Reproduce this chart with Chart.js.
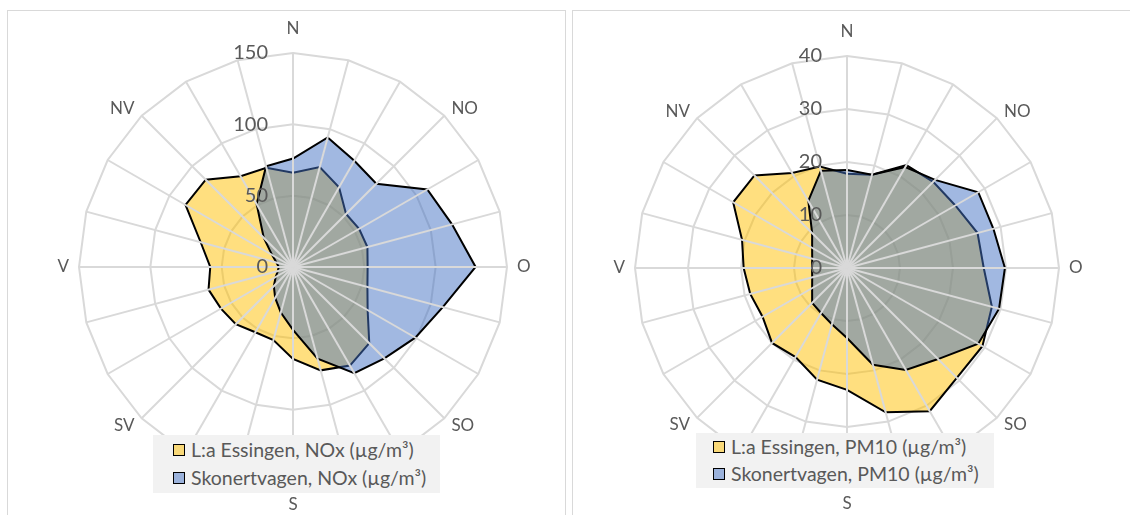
<!DOCTYPE html>
<html>
<head>
<meta charset="utf-8">
<script src="https://cdn.jsdelivr.net/npm/chart.js@4/dist/chart.umd.min.js"></script>
<style>
  html, body { margin: 0; padding: 0; background: #fff; width: 1130px; height: 515px; overflow: hidden; }
  body { position: relative; font-family: Lato, "Open Sans", sans-serif; }
  .panel { position: absolute; border: 1px solid #d9d9d9; box-sizing: border-box; }
  canvas { position: absolute; top: 0; }
  .legend { position: absolute; background: #f2f2f2; }
  .item { position: absolute; height: 22px; line-height: 22px; white-space: nowrap; font-size: 19.5px; color: #595959; }
  .swatch { position: absolute; top: 5px; width: 12px; height: 12px; border: 1.5px solid #000; box-sizing: border-box; background-clip: padding-box; }
  .swatch-bg { position: absolute; top: 5px; width: 12px; height: 12px; background: #f2f2f2; }
  .txt { position: absolute; top: 0; }
</style>
</head>
<body>
<div class="panel" style="left:7px; top:10px; width:559px; height:530px;"></div>
<div class="panel" style="left:572px; top:10px; width:570px; height:530px;"></div>
<canvas id="nox" width="568" height="515" style="left:0; width:568px; height:515px;"></canvas>
<canvas id="pm10" width="562" height="515" style="left:568px; width:562px; height:515px;"></canvas>
<div id="legNox" class="legend" style="left:153px; top:435px; width:287px; height:58px;"></div>
<div id="legPm" class="legend" style="left:696px; top:433px; width:298px; height:55px;"></div>

<script>
// Wind directions, 15° apart, clockwise from north; only the main ones are named
const directions = ['N', '', '', 'NO', '', '', 'O', '', '', 'SO', '', '', 'S', '', '', 'SV', '', '', 'V', '', '', 'NV', '', ''];

// NOx (µg/m³) per wind direction
const noxEssingen   = [66, 72.5, 64.5, 52.6, 53.5, 54, 52.3, 54, 60.4, 75.6, 79.8, 75, 64.5, 53, 52.8, 56.7, 58.3, 61.3, 58, 67, 87, 86.5, 73.4, 72];
const noxSkonert    = [76, 94, 86, 82.6, 108.7, 115.4, 128, 108.7, 99, 90.6, 86, 66.5, 44, 33, 25, 19, 14, 11, 10, 12, 17, 29, 51, 73];

// PM10 (µg/m³) per wind direction
const pmEssingen    = [17.8, 18.2, 22.4, 23, 23.6, 25.5, 25.8, 28.3, 29.5, 29.3, 31.2, 28.2, 23, 21.8, 19.4, 20, 18.4, 18.9, 19.5, 20.5, 24.8, 24.7, 20.7, 19.8];
const pmSkonert     = [18.5, 18.2, 22, 23.5, 28.6, 28.6, 29.8, 29.7, 28.6, 24.3, 22.2, 18.9, 13.2, 11, 9.8, 9.3, 7.6, 6.8, 6.6, 6.8, 7.6, 9.3, 14.6, 19];

// Radial axis ranges
const noxAxis = { max: 150, step: 50 };
const pmAxis  = { max: 40, step: 10 };

const labelsNox = ['L:a Essingen, NOx (µg/m³)', 'Skonertvagen, NOx (µg/m³)'];
const labelsPm  = ['L:a Essingen, PM10 (µg/m³)', 'Skonertvagen, PM10 (µg/m³)'];

const YELLOW = 'rgba(255,192,0,0.5)';
const BLUE   = 'rgba(68,114,196,0.5)';
const TEXT   = '#595959';
const GRID   = '#d9d9d9';

// Spokes over the filled areas, then value ticks and direction names
const overlay = {
  id: 'overlay',
  afterDatasetsDraw(chart) {
    const s = chart.scales.r;
    const ctx = chart.ctx;
    const n = chart.data.labels.length;
    const r = s.drawingArea;
    ctx.save();
    ctx.strokeStyle = GRID;
    ctx.lineWidth = 2;
    for (let i = 0; i < n; i++) {
      const p = s.getPointPosition(i, r);
      ctx.beginPath();
      ctx.moveTo(s.xCenter, s.yCenter);
      ctx.lineTo(p.x, p.y);
      ctx.stroke();
    }
    ctx.fillStyle = TEXT;
    ctx.font = '20px Lato';
    ctx.textAlign = 'right';
    ctx.textBaseline = 'middle';
    s.ticks.forEach(t => {
      const d = s.getDistanceFromCenterForValue(t.value);
      ctx.fillText(String(t.value), s.xCenter - 25, s.yCenter - d);
    });
    ctx.font = '17px Lato';
    chart.data.labels.forEach((lab, i) => {
      if (!lab) return;
      const ang = i * 2 * Math.PI / n;
      const sin = Math.sin(ang), cos = Math.cos(ang);
      if (Math.abs(sin) < 0.01) {
        ctx.textAlign = 'center';
        ctx.fillText(lab, s.xCenter, s.yCenter - (r + 24) * Math.sign(cos));
      } else {
        const p = s.getPointPosition(i, r + 10);
        ctx.textAlign = sin > 0 ? 'left' : 'right';
        ctx.fillText(lab, p.x, p.y);
      }
    });
    ctx.restore();
  }
};

function makeChart(id, names, a, b, axis, pad) {
  return new Chart(document.getElementById(id), {
    type: 'radar',
    data: {
      labels: directions,
      datasets: [
        { label: names[0], data: a, backgroundColor: YELLOW, borderColor: '#000', borderWidth: 2, fill: true, pointRadius: 0, order: 1, borderJoinStyle: 'miter' },
        { label: names[1], data: b, backgroundColor: BLUE,   borderColor: '#000', borderWidth: 2, fill: true, pointRadius: 0, order: 0, borderJoinStyle: 'miter' }
      ]
    },
    options: {
      responsive: false,
      animation: false,
      layout: { padding: pad },
      plugins: { legend: { display: false }, tooltip: { enabled: false } },
      elements: { line: { tension: 0 } },
      scales: {
        r: {
          min: 0, max: axis.max,
          ticks: { stepSize: axis.step, display: false },
          pointLabels: { display: false },
          angleLines: { display: false },
          grid: { color: GRID, lineWidth: 2 }
        }
      }
    },
    plugins: [overlay]
  });
}

function makeLegend(el, chart, rows, swLeft) {
  chart.data.datasets.forEach((ds, i) => {
    const item = document.createElement('div');
    item.className = 'item';
    item.style.left = '0px';
    item.style.top = (rows[i] - 11) + 'px';
    const bg = document.createElement('div');
    bg.className = 'swatch-bg';
    bg.style.left = swLeft + 'px';
    const sw = document.createElement('div');
    sw.className = 'swatch';
    sw.style.left = swLeft + 'px';
    sw.style.background = ds.backgroundColor;
    const t = document.createElement('div');
    t.className = 'txt';
    t.style.left = (swLeft + 18) + 'px';
    t.textContent = ds.label;
    item.appendChild(bg); item.appendChild(sw); item.appendChild(t);
    el.appendChild(item);
  });
}

const c1 = makeChart('nox', labelsNox, noxEssingen, noxSkonert, noxAxis, { left: 79, top: 53, right: 61, bottom: 34 });
const c2 = makeChart('pm10', labelsPm, pmEssingen, pmSkonert, pmAxis, { left: 67, top: 56, right: 71, bottom: 35 });
makeLegend(document.getElementById('legNox'), c1, [15, 43], 20);
makeLegend(document.getElementById('legPm'), c2, [14, 41], 17);
</script>
</body>
</html>
